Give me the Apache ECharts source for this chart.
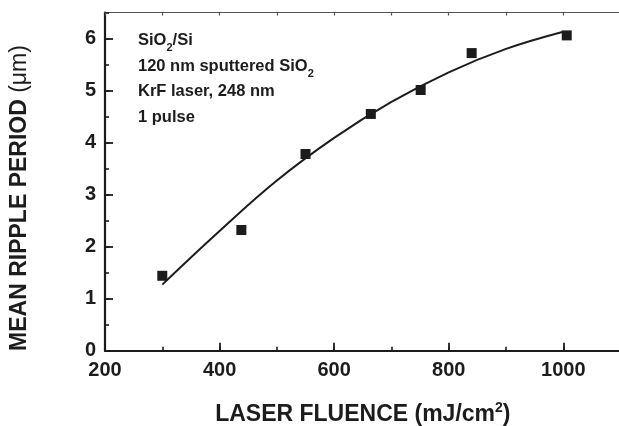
<!DOCTYPE html>
<html>
<head>
<meta charset="utf-8">
<script src="https://cdn.jsdelivr.net/npm/echarts@6/dist/echarts.min.js"></script>
<style>
	html, body { margin: 0; padding: 0; background: #fff; }
	#chart { width: 619px; height: 426px; }
</style>
</head>
<body>
<div id="chart"></div>
<script>
// measured points: fluence (mJ/cm2), mean ripple period (um)
const fluence = [300, 438, 550, 664, 751, 840, 1006];
const period = [1.44, 2.32, 3.78, 4.55, 5.01, 5.72, 6.06];

// fitted curve
const fitFluence = [300, 400, 500, 600, 700, 800, 900, 1000];
const fitPeriod = [1.27, 2.3, 3.27, 4.09, 4.78, 5.35, 5.8, 6.13];

const xTicks = [200, 400, 600, 800, 1000];
const yTicks = [0, 1, 2, 3, 4, 5, 6];

const notes = [
	"{t|SiO}{s|2}{t|/Si}",
	"{t|120 nm sputtered SiO}{s|2}",
	"{t|KrF laser, 248 nm}",
	"{t|1 pulse}"
];

const ink = "#1c1c1c";
const font = "'Liberation Sans', Arial, Helvetica, sans-serif";

const chart = echarts.init(document.getElementById("chart"));

const pairs = (xs, ys) => xs.map((x, i) => [x, ys[i]]);

chart.setOption({
	animation: false,
	backgroundColor: "#fff",
	textStyle: { fontFamily: font, color: ink },
	grid: { left: 105, right: -1.6, top: 12.5, bottom: 75.3, outerBoundsMode: "none", containLabel: false },
	xAxis: [
		{
			type: "value", position: "bottom", min: 200, max: 1100, interval: 200,
			name: "LASER FLUENCE (mJ/cm{sup|2})",
			nameLocation: "middle", nameGap: 50,
			nameTextStyle: {
				fontSize: 23, fontWeight: "bold", color: ink, fontFamily: font, lineHeight: 28,
				rich: { sup: { fontSize: 14, fontWeight: "bold", color: ink, fontFamily: font, verticalAlign: "top", lineHeight: 14 } }
			},
			splitLine: { show: false },
			axisLine: { lineStyle: { color: ink, width: 2.2 } },
			axisTick: { inside: true, length: 8, lineStyle: { color: ink, width: 1.8 } },
			axisLabel: {
				margin: 10, fontSize: 20, fontWeight: "bold", color: ink, fontFamily: font,
				showMaxLabel: false,
				formatter: v => (xTicks.includes(v) ? String(v) : "")
			}
		},
		{
			type: "value", position: "bottom", min: 200, max: 1100, interval: 100,
			splitLine: { show: false }, axisLine: { show: false }, axisLabel: { show: false },
			axisTick: { inside: true, length: 4, lineStyle: { color: ink, width: 1.6 } }
		},
		{
			type: "value", position: "top", min: 200, max: 1100, interval: 100,
			splitLine: { show: false }, axisLabel: { show: false },
			axisLine: { lineStyle: { color: "#555", width: 1.2 } },
			axisTick: { inside: true, length: 3, lineStyle: { color: "#555", width: 1.2 } }
		}
	],
	yAxis: [
		{
			type: "value", position: "left", min: 0, max: 6.5, interval: 1,
			splitLine: { show: false },
			axisLine: { lineStyle: { color: ink, width: 2.2 } },
			axisTick: { inside: true, length: 8, lineStyle: { color: ink, width: 1.8 } },
			axisLabel: {
				margin: 9, fontSize: 20, fontWeight: "bold", color: ink, fontFamily: font,
				showMaxLabel: false,
				formatter: v => (yTicks.includes(v) ? String(v) : "")
			}
		},
		{
			type: "value", position: "left", min: 0, max: 6.5, interval: 0.5,
			splitLine: { show: false }, axisLine: { show: false }, axisLabel: { show: false },
			axisTick: { inside: true, length: 4, lineStyle: { color: ink, width: 1.6 } }
		}
	],
	graphic: [
		{
			type: "text", x: 20, y: 198, rotation: Math.PI / 2,
			style: {
				text: "MEAN RIPPLE PERIOD {mu|(μm)}",
				font: "bold 23px " + font, fill: ink,
				align: "center", verticalAlign: "middle",
				textAlign: "center", textVerticalAlign: "middle",
				rich: { mu: { fontSize: 23, fontWeight: "normal", fontFamily: font, fill: ink } }
			}
		},
		{
			type: "text", x: 138, y: 28,
			style: {
				text: notes.join("\n"),
				fill: ink,
				align: "left", verticalAlign: "top",
				textAlign: "left", textVerticalAlign: "top",
				rich: {
					t: { fontSize: 16.5, fontWeight: "bold", fontFamily: font, fill: ink, lineHeight: 25.5 },
					s: { fontSize: 11, fontWeight: "bold", fontFamily: font, fill: ink, lineHeight: 14, verticalAlign: "bottom" }
				}
			}
		}
	],
	series: [
		{
			type: "line", xAxisIndex: 0, yAxisIndex: 0,
			data: pairs(fitFluence, fitPeriod),
			smooth: 0.4, showSymbol: false,
			lineStyle: { color: ink, width: 2 }
		},
		{
			type: "scatter", xAxisIndex: 0, yAxisIndex: 0,
			data: pairs(fluence, period),
			symbol: "rect", symbolSize: 10,
			itemStyle: { color: ink, opacity: 1 }
		}
	]
});

window.onresize = function () {
	chart.resize();
};
</script>
</body>
</html>
